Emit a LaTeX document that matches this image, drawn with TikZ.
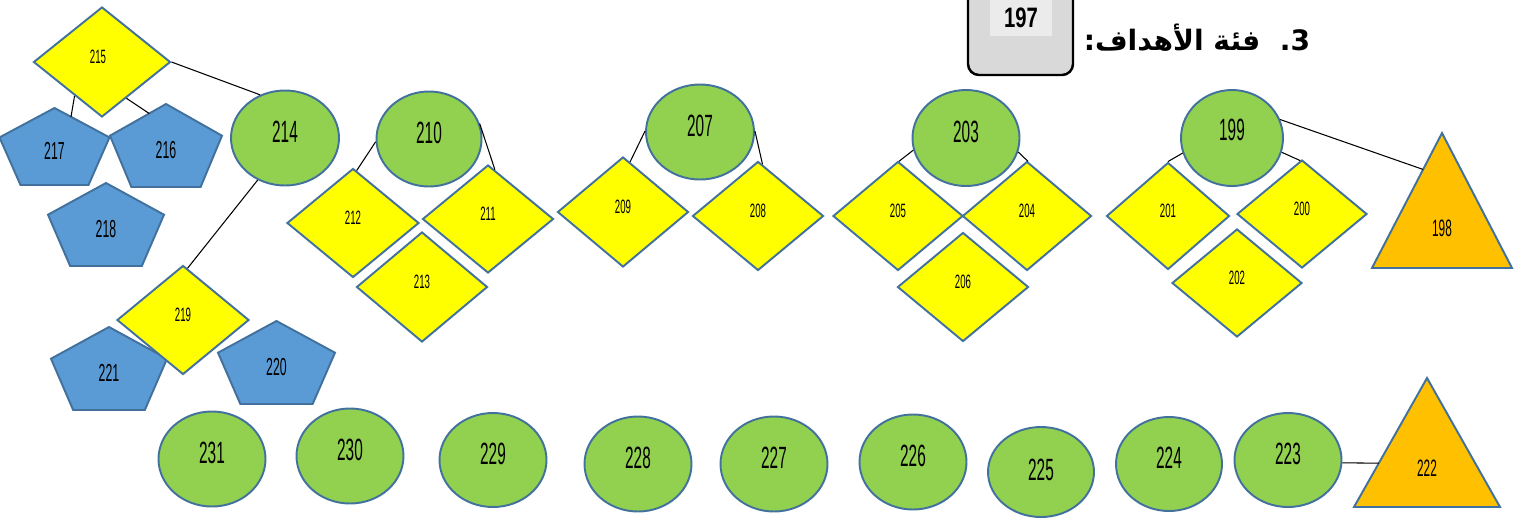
\documentclass[tikz,border=0pt]{standalone}
\usepackage{fontspec}
\usetikzlibrary{shapes.geometric,calc}
\TeXXeTstate=1
\newfontfamily\numf[FakeStretch=0.5]{Liberation Sans}
\newfontfamily\numbf[FakeStretch=0.72]{Liberation Sans}
\newfontfamily\arabicfont[Script=Arabic]{DejaVu Sans}
\definecolor{greenc}{RGB}{146,208,80}
\definecolor{bordc}{RGB}{65,113,156}
\definecolor{yellowc}{RGB}{255,255,0}
\definecolor{bluec}{RGB}{91,155,213}
\definecolor{orangec}{RGB}{255,192,0}
\definecolor{boxgray}{RGB}{217,217,217}
\definecolor{boxlight}{RGB}{235,235,235}
\tikzset{
  sz/.style 2 args={minimum width=#1*0.02cm, minimum height=#2*0.02cm},
  ell/.style={ellipse, draw=bordc, fill=greenc, line width=1.1pt, inner sep=0pt},
  dia/.style={diamond, draw=bordc, fill=yellowc, line width=1.1pt, inner sep=0pt},
  elbl/.style={font=\numf\fontsize{17.5}{18}\selectfont, yshift=0.12cm, inner sep=0pt},
  dlbl/.style={font=\numf\fontsize{11}{12}\selectfont, yshift=0.1cm, inner sep=0pt},
  plbl/.style={font=\numf\fontsize{14}{15}\selectfont, inner sep=0pt},
  tlbl/.style={font=\numf\fontsize{13.5}{15}\selectfont, inner sep=0pt},
  pentstyle/.style={draw=bordc, fill=bluec, line width=1.1pt, line join=miter},
  tristyle/.style={draw=bordc, fill=orangec, line width=1.1pt, line join=miter},
  conn/.style={draw=black, line width=0.6pt},
}
\newcommand\pentshape[6]{%
  \coordinate (#1-t) at (#2,#3);
  \coordinate (#1-r) at ({#2+#4/2},{#3+0.382*#5});
  \coordinate (#1-l) at ({#2-#4/2},{#3+0.382*#5});
  \path[pentstyle] (#1-t) -- (#1-r) -- ({#2+0.309*#4},{#3+#5}) -- ({#2-0.309*#4},{#3+#5}) -- (#1-l) -- cycle;
  \node[plbl] (#1) at ({#2},{#3+0.553*#5}) {#6};
}
\newcommand\trishape[7]{%
  \coordinate (#1-a) at (#2,#3);
  \coordinate (#1-bl) at ({#2-#5},#4);
  \coordinate (#1-br) at ({#2+#5},#4);
  \path[tristyle] (#1-a) -- (#1-bl) -- (#1-br) -- cycle;
  \node[tlbl] (#1) at (#2,#6) {#7};
}
\begin{document}
\begin{tikzpicture}[x=0.02cm,y=-0.02cm]
\useasboundingbox (0,0) rectangle (1525,518);

% header
\draw[line width=1.4pt, fill=boxgray, rounded corners=0.22cm] (968,-20) rectangle (1073,75);
\fill[boxlight] (990,-2) rectangle (1052,36);
\node[font=\numbf\bfseries\fontsize{16}{18}\selectfont, inner sep=0pt] (n197) at (1021,18) {197};
\node[inner sep=0pt] (head) at (1197,38) {\arabicfont\bfseries\fontsize{16}{20}\selectfont\beginR 3.\ \ فئة الأهداف:\endR};

% pentagons
\pentshape{p217}{54.5}{108}{110}{77}{217}
\pentshape{p216}{166}{104}{112}{83}{216}
\pentshape{p218}{106}{183}{116}{83}{218}
\pentshape{p221}{109}{327}{116}{83}{221}
\pentshape{p220}{276.5}{321}{117}{83}{220}

% triangles
\trishape{t198}{1442}{133}{268}{70}{228}{198}
\trishape{t222}{1427}{378}{507}{73}{468}{222}

% top ellipses
\node[ell, sz={108}{95}, label={[elbl]center:214}] (n214) at (285,138) {};
\node[ell, sz={105}{95}, label={[elbl]center:210}] (n210) at (429,139) {};
\node[ell, sz={108}{95}, label={[elbl]center:207}] (n207) at (700,132) {};
\node[ell, sz={107}{96}, label={[elbl]center:203}] (n203) at (966,138) {};
\node[ell, sz={102}{96}, label={[elbl,yshift=0.04cm]center:199}] (n199) at (1232,138) {};

% diamonds
\node[dia, sz={137}{110}, label={[dlbl,xshift=-0.08cm]center:215}] (n215) at (102,62) {};
\node[dia, sz={132}{109}, label={[dlbl]center:212}] (n212) at (353,223) {};
\node[dia, sz={131}{108}, label={[dlbl]center:211}] (n211) at (488,219) {};
\node[dia, sz={131}{110}, label={[dlbl]center:213}] (n213) at (422,287) {};
\node[dia, sz={131}{110}, label={[dlbl]center:209}] (n209) at (623,212) {};
\node[dia, sz={131}{109}, label={[dlbl]center:208}] (n208) at (758,216) {};
\node[dia, sz={130}{109}, label={[dlbl]center:205}] (n205) at (898,216) {};
\node[dia, sz={129}{109}, label={[dlbl]center:204}] (n204) at (1027,216) {};
\node[dia, sz={131}{109}, label={[dlbl]center:206}] (n206) at (963,287) {};
\node[dia, sz={123}{107}, label={[dlbl]center:201}] (n201) at (1168,216) {};
\node[dia, sz={130}{108}, label={[dlbl]center:200}] (n200) at (1302,214) {};
\node[dia, sz={130}{108}, label={[dlbl]center:202}] (n202) at (1237,283) {};
\node[dia, sz={132}{109}, label={[dlbl]center:219}] (n219) at (183,320) {};

% bottom ellipses
\node[ell, sz={107}{95}, label={[elbl]center:231}] (n231) at (212,459) {};
\node[ell, sz={107}{95}, label={[elbl]center:230}] (n230) at (350,456) {};
\node[ell, sz={107}{94}, label={[elbl]center:229}] (n229) at (493,460) {};
\node[ell, sz={107}{95}, label={[elbl]center:228}] (n228) at (638,464) {};
\node[ell, sz={107}{95}, label={[elbl]center:227}] (n227) at (774,464) {};
\node[ell, sz={107}{95}, label={[elbl]center:226}] (n226) at (913,462) {};
\node[ell, sz={106}{90}, label={[elbl,yshift=-0.08cm]center:225}] (n225) at (1041,472) {};
\node[ell, sz={106}{94}, label={[elbl]center:224}] (n224) at (1169,464) {};
\node[ell, sz={107}{94}, label={[elbl]center:223}] (n223) at (1288,460) {};

% connectors
\draw[conn] (n215.east) -- (n214.120);
\draw[conn] (n215.231) -- ($(p217-t)!0.3!(p217-r)$);
\draw[conn] (n215.304) -- ($(p216-t)!0.3!(p216-l)$);
\draw[conn] (n214.237) -- (n219.85);
\draw[conn] (n210.183) -- (n212.86);
\draw[conn] (n210.17) -- (n211.82);
\draw[conn] (n207.179) -- (n209.82);
\draw[conn] (n207.1) -- (n208.85);
\draw[conn] (n203.193) -- (n205.89);
\draw[conn] (n203.345) -- (n204.89);
\draw[conn] (n199.197) -- (n201.north);
\draw[conn] (n199.344) -- (n200.92);
\draw[conn] (n199.21) -- ($(t198-a)!0.27!(t198-bl)$);
\draw[conn] (n223.-3) -- ($(t222-a)!0.66!(t222-bl)$);
\end{tikzpicture}
\end{document}
